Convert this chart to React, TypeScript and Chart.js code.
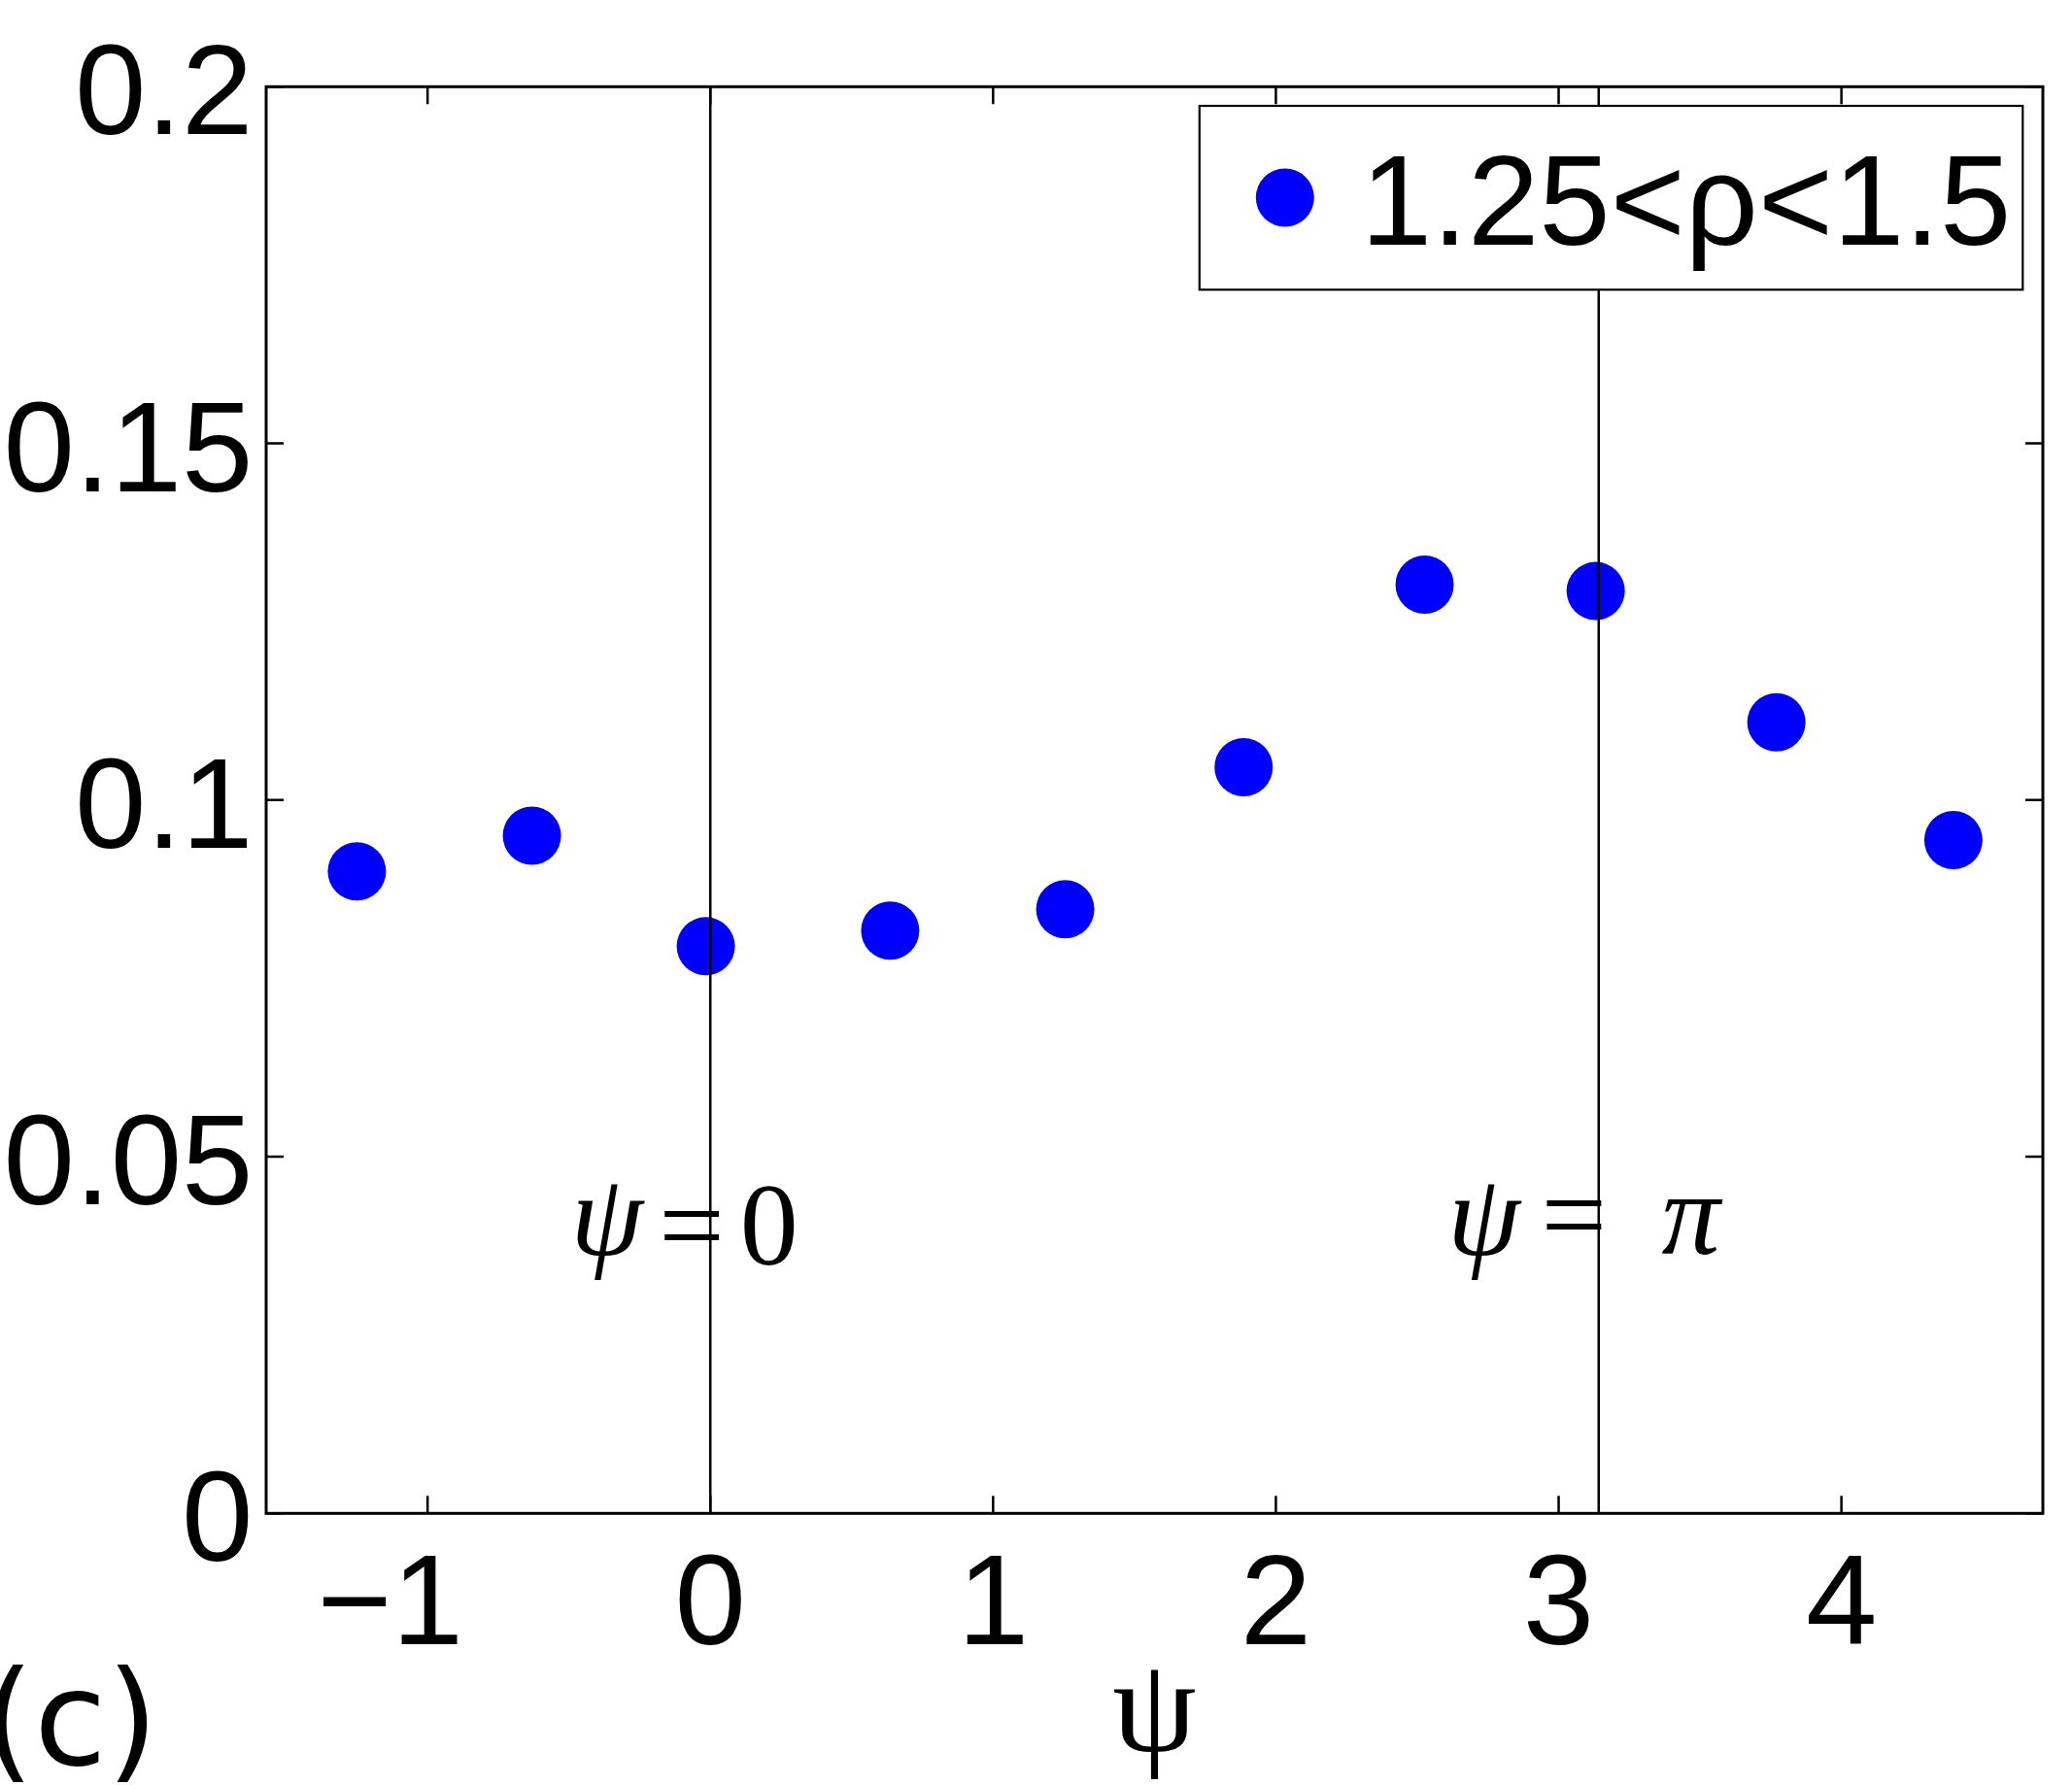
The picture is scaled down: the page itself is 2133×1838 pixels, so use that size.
import React, { useEffect, useRef } from "react";
import { Chart, registerables } from "chart.js";

Chart.register(...registerables);

// ---- data ----
const PSI_VALUES = [-1.25, -0.631, -0.016, 0.636, 1.255, 1.886, 2.526, 3.131, 3.77, 4.396];
const DENSITY = [0.09, 0.095, 0.0795, 0.0817, 0.0847, 0.1046, 0.1302, 0.1293, 0.1109, 0.0944];
const SERIES_LABEL = "1.25<ρ<1.5";
const X_TICKS = [-1, 0, 1, 2, 3, 4];
const Y_TICKS = [0, 0.05, 0.1, 0.15, 0.2];
const X_MIN = -Math.PI / 2;
const X_MAX = (3 * Math.PI) / 2;
const Y_MIN = 0;
const Y_MAX = 0.2;
const REF_LINES = [0, Math.PI];
const ANNOT_PARTS = [
  ["ψ", "=", "0"],
  ["ψ", "=", "π"],
];
const X_TITLE = "ψ";
const PANEL_LABEL = "(c)";

// ---- style ----
const SANS = "'Liberation Sans', Arial, Helvetica, sans-serif";
const SERIF = "'Liberation Serif', 'Times New Roman', serif";
const PANEL_FONT = "'DejaVu Sans', sans-serif";
const W = 2133;
const H = 1838;
const BLUE = "#0000ff";

// annotation placement (data x of glyph centres, data y of glyph baselines)
const ANNOT_LAYOUT = [
  { xs: [-0.366, -0.066, 0.208], ys: [0.0362, 0.0349, 0.0349] },
  { xs: [2.735, 3.054, 3.467], ys: [0.0362, 0.0364, 0.0364] },
];

const fmtTick = (v: number) => {
  const s = String(Math.round(v * 1000) / 1000);
  return s.replace("-", "\u2212");
};

const framePlugin = {
  id: "frame",
  afterDraw(chart: any) {
    const { ctx, chartArea, scales } = chart;
    const { left, right, top, bottom } = chartArea;
    const xs = scales.x;
    const ys = scales.y;
    ctx.save();
    ctx.strokeStyle = "#000";
    ctx.fillStyle = "#000";

    // annotations
    ANNOT_PARTS.forEach((parts, i) => {
      const lay = ANNOT_LAYOUT[i];
      parts.forEach((t, j) => {
        const cx = xs.getPixelForValue(lay.xs[j]);
        const by = ys.getPixelForValue(lay.ys[j]);
        const italic = t === "ψ" || t === "π";
        ctx.font = `${italic ? "italic " : ""}120px ${SERIF}`;
        ctx.textAlign = "center";
        ctx.textBaseline = "alphabetic";
        ctx.fillText(t, cx, by);
      });
    });

    // inward ticks
    const tl = 18;
    ctx.lineWidth = 2.5;
    ctx.beginPath();
    xs.ticks.forEach((t: any) => {
      const px = xs.getPixelForValue(t.value);
      ctx.moveTo(px, bottom);
      ctx.lineTo(px, bottom - tl);
      ctx.moveTo(px, top);
      ctx.lineTo(px, top + tl);
    });
    ys.ticks.forEach((t: any) => {
      const py = ys.getPixelForValue(t.value);
      ctx.moveTo(left, py);
      ctx.lineTo(left + tl, py);
      ctx.moveTo(right, py);
      ctx.lineTo(right - tl, py);
    });
    ctx.stroke();

    // tick labels
    ctx.fillStyle = "#000";
    ctx.font = `132px ${SANS}`;
    ctx.textBaseline = "alphabetic";
    ys.ticks.forEach((t: any) => {
      const py = ys.getPixelForValue(t.value);
      ctx.textAlign = "right";
      ctx.fillText(fmtTick(t.value), left - 13.5, py + 49);
    });
    xs.ticks.forEach((t: any) => {
      const px = xs.getPixelForValue(t.value);
      const s = fmtTick(t.value);
      const by = bottom + 135;
      if (t.value < 0) {
        const body = s.slice(1);
        const w = ctx.measureText(body).width;
        ctx.textAlign = "center";
        ctx.fillText(body, px, by);
        ctx.textAlign = "right";
        ctx.fillText(s[0], px - w / 2, by);
      } else {
        ctx.textAlign = "center";
        ctx.fillText(s, px, by);
      }
    });

    // legend
    const lgRight = right - 20.7;
    const lgTop = top + 19.7;
    const lgW = 847.5;
    const lgH = 189.3;
    const lgLeft = lgRight - lgW;
    ctx.fillStyle = "#fff";
    ctx.fillRect(lgLeft, lgTop, lgW, lgH);
    ctx.lineWidth = 2.2;
    ctx.strokeRect(lgLeft, lgTop, lgW, lgH);
    ctx.fillStyle = BLUE;
    ctx.beginPath();
    ctx.arc(lgLeft + 88, lgTop + 94.5, 30, 0, Math.PI * 2);
    ctx.fill();
    ctx.fillStyle = "#000";
    ctx.font = `132px ${SANS}`;
    ctx.textAlign = "left";
    ctx.textBaseline = "alphabetic";
    const label = chart.data.datasets.find((d: any) => d.isSeries)?.label ?? "";
    ctx.fillText(label, lgLeft + 166, lgTop + 142.7);

    // frame
    ctx.lineWidth = 3;
    ctx.strokeRect(left, top, right - left, bottom - top);

    // panel label
    ctx.font = `136px ${PANEL_FONT}`;
    ctx.textAlign = "left";
    ctx.textBaseline = "alphabetic";
    ctx.fillStyle = "#000";
    ctx.fillText(PANEL_LABEL, -18, 1817);
    ctx.restore();
  },
};

export default function App() {
  const ref = useRef<HTMLCanvasElement | null>(null);
  useEffect(() => {
    if (!ref.current) return;
    const refDatasets = REF_LINES.map((xv) => ({
      type: "line" as const,
      label: "ref",
      data: [
        { x: xv, y: Y_MIN },
        { x: xv, y: Y_MAX },
      ],
      borderColor: "#000",
      borderWidth: 2.5,
      pointRadius: 0,
      showLine: true,
      fill: false,
    }));
    const chart = new Chart(ref.current, {
      type: "scatter",
      data: {
        datasets: [
          ...refDatasets,
          {
            label: SERIES_LABEL,
            isSeries: true,
            data: PSI_VALUES.map((x, i) => ({ x, y: DENSITY[i] })),
            backgroundColor: BLUE,
            borderWidth: 0,
            pointRadius: 30,
            pointHoverRadius: 30,
            pointStyle: "circle",
          } as any,
        ],
      },
      options: {
        responsive: false,
        animation: false,
        devicePixelRatio: 1,
        events: [],
        layout: { padding: { left: 0, top: 89.3, right: W - 2105.7, bottom: 0 } },
        plugins: { legend: { display: false }, tooltip: { enabled: false } },
        scales: {
          x: {
            type: "linear",
            min: X_MIN,
            max: X_MAX,
            grid: { display: false, drawTicks: false },
            border: { display: false },
            afterBuildTicks: (s: any) => {
              s.ticks = X_TICKS.map((v) => ({ value: v }));
            },
            afterFit: (s: any) => {
              s.height = H - 1558.3;
            },
            ticks: { display: false },
            title: {
              display: true,
              text: X_TITLE,
              color: "#000",
              font: { family: SERIF, size: 138, lineHeight: 1 },
              padding: { top: 0, bottom: 2.5 },
            },
          },
          y: {
            type: "linear",
            min: Y_MIN,
            max: Y_MAX,
            grid: { display: false, drawTicks: false },
            border: { display: false },
            afterBuildTicks: (s: any) => {
              s.ticks = Y_TICKS.map((v) => ({ value: v }));
            },
            afterFit: (s: any) => {
              s.width = 274;
            },
            ticks: { display: false },
          },
        },
      } as any,
      plugins: [framePlugin],
    });
    return () => chart.destroy();
  }, []);
  return (
    <div style={{ position: "absolute", left: 0, top: 0, width: W, height: H, background: "#fff" }}>
      <canvas ref={ref} width={W} height={H} style={{ display: "block", width: W, height: H }} />
    </div>
  );
}
